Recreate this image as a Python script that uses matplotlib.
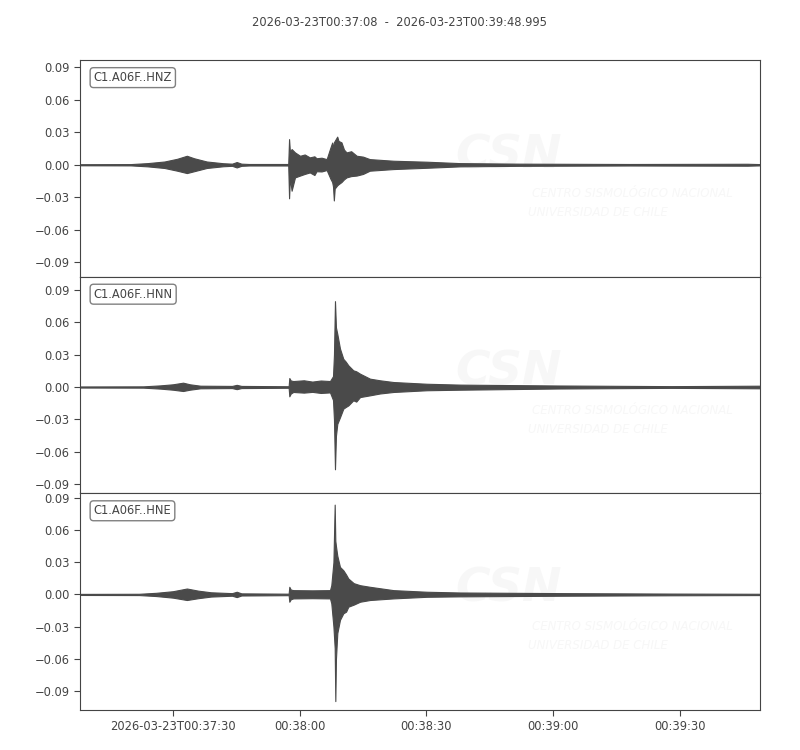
import datetime as dt
import numpy as np
import matplotlib
matplotlib.use('Agg')
import matplotlib.pyplot as plt
import matplotlib.dates as mdates
from matplotlib.ticker import FixedLocator, FuncFormatter

# Trace start and end (seconds are relative to start)
start = dt.datetime(2026, 3, 23, 0, 37, 8)
duration = 160.995
title = '2026-03-23T00:37:08  -  2026-03-23T00:39:48.995'

channels = ['C1.A06F..HNZ', 'C1.A06F..HNN', 'C1.A06F..HNE']

# Envelope of each trace (seconds, upper, lower)
hnz_t = [0, 12, 16, 20, 23, 25.3, 27, 30, 33.9, 36.0, 37.1, 38.2, 40, 49.3, 49.5, 49.7,
         50.1, 50.9, 52.1, 53.2, 54.4, 55.5, 56, 57.2, 58.4, 59.3, 59.7, 59.9, 60.1, 60.3,
         60.9, 61.2, 61.9, 62.5, 63.1, 64.2, 65.5, 67.0, 68.6, 74.2, 82.1, 90, 104, 130,
         158, 161]
hnz_up = [.0005, .0006, .0015, .003, .0055, .0083, .006, .003, .0014, .001, .0025, .001,
          .0007, .0007, .0237, .012, .0145, .0114, .0083, .0095, .0068, .0078, .006, .0065,
          .0052, .016, .0205, .015, .0207, .022, .026, .022, .0207, .014, .0114, .0125,
          .0083, .0075, .0052, .0037, .0028, .0015, .001, .0007, .0009, .0006]
hnz_lo = [-.0005, -.0006, -.0015, -.003, -.0055, -.0077, -.006, -.003, -.0014, -.001,
          -.0025, -.001, -.0007, -.0007, -.031, -.012, -.024, -.0117, -.010, -.0085, -.0071,
          -.0095, -.006, -.0062, -.0049, -.013, -.016, -.02, -.033, -.022, -.019, -.018,
          -.016, -.0135, -.0117, -.0105, -.010, -.0085, -.0055, -.004, -.0028, -.0015,
          -.001, -.0007, -.0009, -.0006]

hnn_t = [0, 15, 19, 22, 24.4, 26, 28.5, 36.0, 37.1, 38.2, 49.4, 49.56, 49.9, 50.5, 53,
         55, 57, 59.19, 59.9, 60.13, 60.37, 60.6, 60.92, 61.55, 62.34, 62.9, 63.53, 64.7,
         65.4, 66.3, 68.65, 71.0, 74.2, 82.1, 90, 113, 140, 161]
hnn_up = [.0005, .0006, .0015, .0025, .004, .0025, .0012, .001, .002, .001, .0007, .0083,
          .006, .0055, .0062, .005, .006, .0055, .01, .03, .0793, .055, .049, .0355, .026,
          .0235, .020, .0154, .0145, .0123, .0077, .0062, .0046, .003, .0022, .0014, .0008,
          .0012]
hnn_lo = [-.0005, -.0006, -.0015, -.0025, -.0037, -.0025, -.0012, -.001, -.002, -.001,
          -.0007, -.0086, -.006, -.0046, -.0052, -.0045, -.0055, -.005, -.012, -.03, -.076,
          -.045, -.034, -.028, -.020, -.0185, -.017, -.0123, -.0135, -.0093, -.0077, -.006,
          -.0046, -.003, -.0025, -.0014, -.0008, -.0012]

hne_t = [0, 14, 18, 22, 25.3, 28, 31, 36.0, 37.1, 38.2, 49.4, 49.56, 49.9, 50.5, 55,
         59.19, 59.5, 60.0, 60.3, 60.45, 60.6, 60.92, 61.55, 62.34, 63.0, 63.53, 64.8,
         66.3, 68.65, 74.2, 82.1, 90, 115, 140, 161]
hne_up = [.0005, .0006, .0015, .003, .0055, .0035, .002, .0012, .0025, .001, .0007, .0071,
          .0045, .004, .0038, .004, .0086, .03, .0836, .05, .045, .036, .0256, .0225,
          .0185, .0148, .0105, .0086, .0071, .004, .0025, .0018, .0012, .0008, .0006]
hne_lo = [-.0005, -.0006, -.0015, -.003, -.0052, -.0035, -.002, -.0012, -.0025, -.001,
          -.0007, -.0068, -.0045, -.0037, -.0035, -.0037, -.0083, -.03, -.05, -.0993,
          -.06, -.036, -.0237, -.0176, -.016, -.0114, -.0095, -.0068, -.0052, -.0037,
          -.0022, -.0018, -.0012, -.0008, -.0006]

traces = [(hnz_t, hnz_up, hnz_lo), (hnn_t, hnn_up, hnn_lo), (hne_t, hne_up, hne_lo)]
ylims = [(-0.1036, 0.0965), (-0.0983, 0.1017), (-0.1076, 0.0940)]
yticks = [-0.09, -0.06, -0.03, 0.0, 0.03, 0.06, 0.09]
xtick_secs = [22, 52, 82, 112, 142]

grey = '#444444'
wave_color = '#4a4a4a'
mark_color = '#f7f7f7'
plt.rcParams['font.size'] = 8
plt.rcParams['text.color'] = grey
plt.rcParams['axes.edgecolor'] = grey
plt.rcParams['xtick.color'] = grey
plt.rcParams['ytick.color'] = grey
plt.rcParams['axes.labelcolor'] = grey


def to_num(secs):
    return mdates.date2num([start + dt.timedelta(seconds=s) for s in secs])


def fmt_tick(x, pos):
    d = mdates.num2date(x)
    if pos == 0:
        return d.strftime('%Y-%m-%dT%H:%M:%S')
    return d.strftime('%H:%M:%S')


def fmt_y(v, pos):
    s = '%.2f' % abs(v)
    return '\u2212' + s if v < -1e-9 else s


fig, axes = plt.subplots(3, 1, figsize=(8, 7.5), dpi=100, sharex=True)
fig.subplots_adjust(left=0.1, right=0.95, top=0.9196, bottom=0.0533, hspace=0)

for ax, (t, up, lo), name, yl in zip(axes, traces, channels, ylims):
    tn = to_num(t)
    ax.fill_between(tn, lo, up, color=wave_color, lw=0.8, zorder=2)
    ax.set_ylim(*yl)
    ax.set_yticks(yticks)
    ax.yaxis.set_major_formatter(FuncFormatter(fmt_y))
    ax.text(0.02, 0.95, name, transform=ax.transAxes, va='top', ha='left', fontsize=8.3,
            color=grey, zorder=5, bbox=dict(boxstyle='round', fc='w', ec='#808080'))

    # faint station logo watermark
    ax.text(0.63, 0.56, 'CSN', transform=ax.transAxes, ha='center', va='center',
            fontsize=34, fontweight='bold', style='italic', color=mark_color, zorder=0)
    ax.text(0.665, 0.384, 'CENTRO SISMOLÓGICO NACIONAL', transform=ax.transAxes,
            ha='left', va='center', fontsize=8.5, style='italic', color=mark_color, zorder=0)
    ax.text(0.659, 0.297, 'UNIVERSIDAD DE CHILE', transform=ax.transAxes,
            ha='left', va='center', fontsize=8.5, style='italic', color=mark_color, zorder=0)

    ax.tick_params(axis='y', labelsize=8.3, length=4)
    ax.tick_params(axis='x', labelsize=8.3, length=4)

for ax in axes[:-1]:
    ax.tick_params(axis='x', bottom=False, labelbottom=False)

xl = to_num([0, duration])
axes[-1].set_xlim(xl[0], xl[1])
axes[-1].xaxis.set_major_locator(FixedLocator(to_num(xtick_secs)))
axes[-1].xaxis.set_major_formatter(FuncFormatter(fmt_tick))

fig.suptitle(title, fontsize=8.3, color=grey, y=0.978)

fig.savefig('out.png', dpi=100)
